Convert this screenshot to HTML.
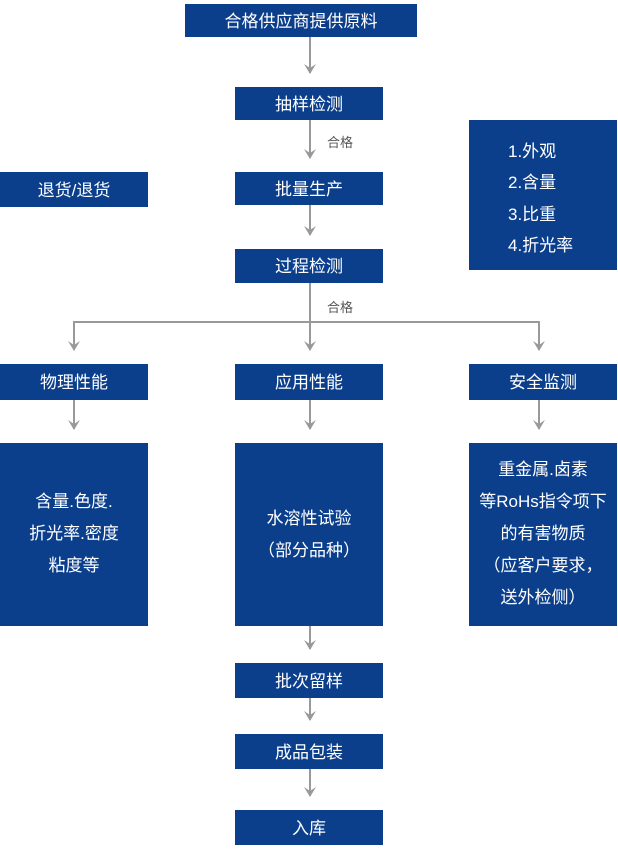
<!DOCTYPE html>
<html><head><meta charset="utf-8"><style>
html,body{margin:0;padding:0;background:#fff;width:618px;height:856px;overflow:hidden}
svg{display:block}
text{font-family:"Liberation Sans","Noto Sans CJK SC",sans-serif;fill:#fff;font-size:17px;text-anchor:middle}
.l{fill:#555;font-size:13px;text-anchor:start}
.s{text-anchor:start}
</style></head><body>
<svg width="618" height="856" viewBox="0 0 618 856">
<defs><marker id="a" markerWidth="10" markerHeight="12" refX="9" refY="6" orient="auto" markerUnits="userSpaceOnUse">
<path d="M0,0 L10,6 L0,12 L4,6 Z" fill="#999"/></marker></defs>
<g fill="#0b3f8c">
<rect x="185" y="4" width="232" height="33"/>
<rect x="235" y="87" width="148" height="33"/>
<rect x="235" y="172" width="148" height="33"/>
<rect x="0" y="172" width="148" height="35"/>
<rect x="469" y="120" width="148" height="150"/>
<rect x="235" y="249" width="148" height="34"/>
<rect x="0" y="364" width="148" height="36"/>
<rect x="235" y="364" width="148" height="36"/>
<rect x="469" y="364" width="148" height="36"/>
<rect x="0" y="443" width="148" height="183"/>
<rect x="235" y="443" width="148" height="183"/>
<rect x="469" y="443" width="148" height="183"/>
<rect x="235" y="663" width="148" height="35"/>
<rect x="235" y="734" width="148" height="35"/>
<rect x="235" y="810" width="148" height="35"/>
</g>
<g stroke="#999" stroke-width="2" fill="none">
<line x1="310" y1="37" x2="310" y2="73" marker-end="url(#a)"/>
<line x1="310" y1="120" x2="310" y2="158" marker-end="url(#a)"/>
<line x1="310" y1="205" x2="310" y2="235" marker-end="url(#a)"/>
<line x1="310" y1="283" x2="310" y2="350" marker-end="url(#a)"/>
<polyline points="74,340 74,322 539,322 539,340"/>
<line x1="74" y1="330" x2="74" y2="350" marker-end="url(#a)"/>
<line x1="539" y1="330" x2="539" y2="350" marker-end="url(#a)"/>
<line x1="74" y1="400" x2="74" y2="429" marker-end="url(#a)"/>
<line x1="310" y1="400" x2="310" y2="429" marker-end="url(#a)"/>
<line x1="539" y1="400" x2="539" y2="429" marker-end="url(#a)"/>
<line x1="310" y1="626" x2="310" y2="649" marker-end="url(#a)"/>
<line x1="310" y1="698" x2="310" y2="720" marker-end="url(#a)"/>
<line x1="310" y1="769" x2="310" y2="796" marker-end="url(#a)"/>
</g>
<text x="301" y="27">合格供应商提供原料</text>
<text x="309" y="110">抽样检测</text>
<text class="l" x="327" y="147">合格</text>
<text x="309" y="195">批量生产</text>
<text x="74" y="196">退货/退货</text>
<text class="s" x="508" y="157">1.外观</text>
<text class="s" x="508" y="188">2.含量</text>
<text class="s" x="508" y="220">3.比重</text>
<text class="s" x="508" y="251">4.折光率</text>
<text x="309" y="272">过程检测</text>
<text class="l" x="327" y="312">合格</text>
<text x="74" y="388">物理性能</text>
<text x="309" y="388">应用性能</text>
<text x="543" y="388">安全监测</text>
<text x="74" y="507">含量.色度.</text>
<text x="74" y="539">折光率.密度</text>
<text x="74" y="571">粘度等</text>
<text x="309" y="524">水溶性试验</text>
<text x="309" y="556">（部分品种）</text>
<text x="543" y="475">重金属.卤素</text>
<text x="543" y="507">等RoHs指令项下</text>
<text x="543" y="539">的有害物质</text>
<text x="543" y="571">（应客户要求，</text>
<text x="543" y="603">送外检侧）</text>
<text x="309" y="687">批次留样</text>
<text x="309" y="758">成品包装</text>
<text x="309" y="834">入库</text>
</svg>
</body></html>
